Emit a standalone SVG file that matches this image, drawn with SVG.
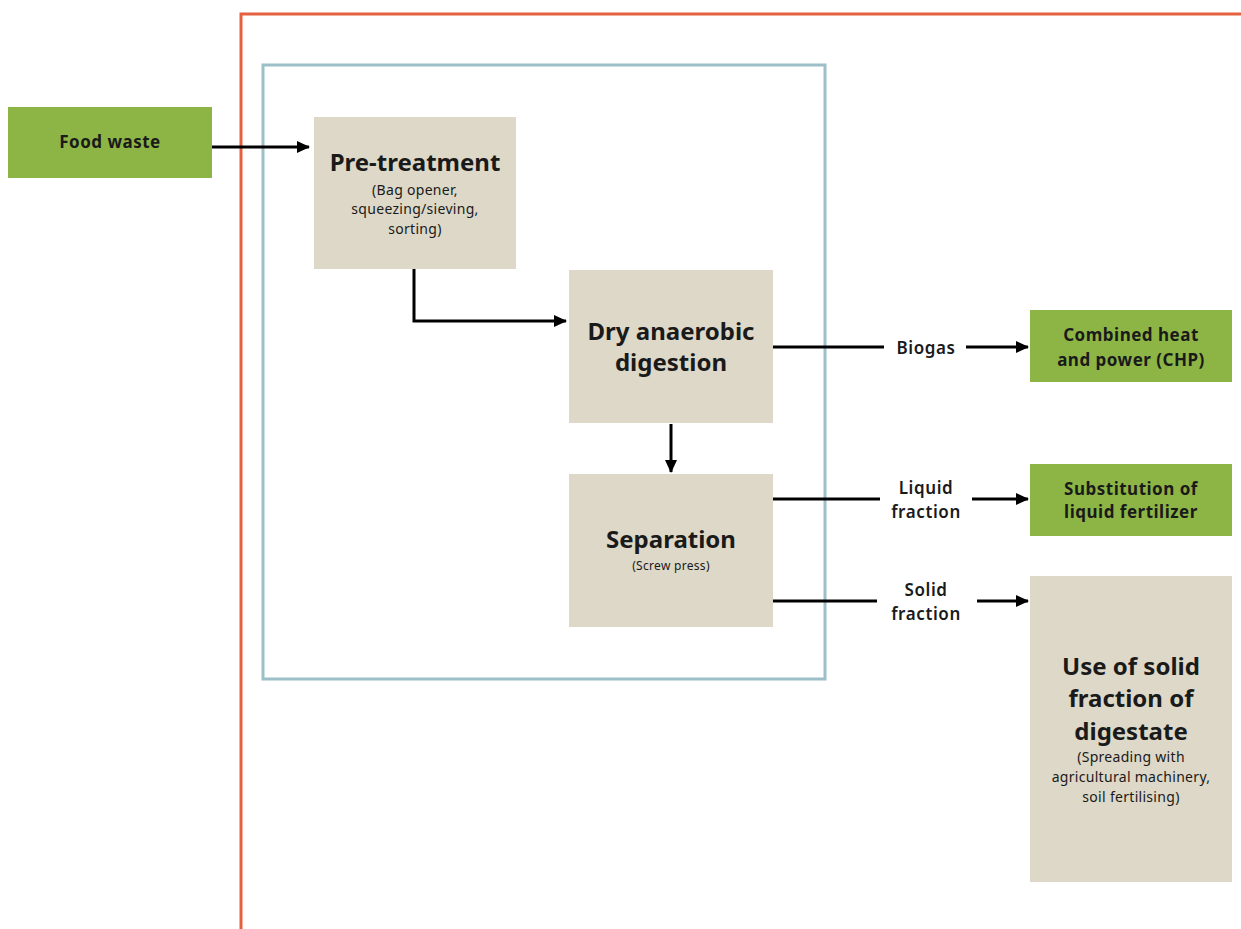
<svg xmlns="http://www.w3.org/2000/svg" width="1241" height="929" viewBox="0 0 1241 929">
<style>
.green{fill:#8db545}
.beige{fill:#ddd8c7}
.t{font-family:"Noto Sans","Liberation Sans",sans-serif;fill:#1a1a1a;text-anchor:middle}
.big{font-size:24px;font-weight:700}
.mid{font-size:17px;font-weight:700;letter-spacing:0.5px}
.lab{font-size:17px;font-weight:600;letter-spacing:0.6px}
.sub{font-size:14px;font-weight:400;letter-spacing:0.3px}
.con{stroke:#000;stroke-width:3;fill:none}
</style>
<defs>
<marker id="ah" markerUnits="userSpaceOnUse" markerWidth="14" markerHeight="14" refX="12" refY="7" orient="auto">
<path d="M0,1 L13,7 L0,13 Z" fill="#000"/>
</marker>
</defs>
<rect width="1241" height="929" fill="#fff"/>
<g id="frames">
<path d="M1241,14 L241,14 L241,929" fill="none" stroke="#e4603f" stroke-width="3"/>
<rect x="263" y="65" width="562" height="614" fill="none" stroke="#9dbfc8" stroke-width="3"/>
</g>
<g id="connectors">
<path class="con" d="M212,147 L309,147" marker-end="url(#ah)"/>
<path class="con" d="M414,269 L414,321 L566,321" marker-end="url(#ah)"/>
<path class="con" d="M671,424 L671,472" marker-end="url(#ah)"/>
<path class="con" d="M773,347 L884,347"/>
<path class="con" d="M966,347 L1028,347" marker-end="url(#ah)"/>
<path class="con" d="M773,499 L880,499"/>
<path class="con" d="M972,499 L1028,499" marker-end="url(#ah)"/>
<path class="con" d="M773,601 L877,601"/>
<path class="con" d="M977,601 L1028,601" marker-end="url(#ah)"/>
<text class="t lab" x="926" y="354">Biogas</text>
<text class="t lab" x="926" y="494">Liquid</text>
<text class="t lab" x="926" y="518">fraction</text>
<text class="t lab" x="926" y="596">Solid</text>
<text class="t lab" x="926" y="620">fraction</text>
</g>
<g id="food-waste">
<rect class="green" x="8" y="107" width="204" height="71"/>
<text class="t mid" x="110" y="148">Food waste</text>
</g>
<g id="pre-treatment">
<rect class="beige" x="314" y="117" width="202" height="152"/>
<text class="t big" x="415" y="171">Pre-treatment</text>
<text class="t sub" x="415" y="195">(Bag opener,</text>
<text class="t sub" x="415" y="214">squeezing/sieving,</text>
<text class="t sub" x="415" y="234">sorting)</text>
</g>
<g id="dry-anaerobic-digestion">
<rect class="beige" x="569" y="270" width="204" height="153"/>
<text class="t big" x="671" y="340">Dry anaerobic</text>
<text class="t big" x="671" y="371">digestion</text>
</g>
<g id="separation">
<rect class="beige" x="569" y="474" width="204" height="153"/>
<text class="t big" x="671" y="548">Separation</text>
<text class="t sub" x="671" y="570" style="font-size:12px">(Screw press)</text>
</g>
<g id="chp">
<rect class="green" x="1030" y="310" width="202" height="72"/>
<text class="t mid" x="1131" y="341">Combined heat</text>
<text class="t mid" x="1131" y="366">and power (CHP)</text>
</g>
<g id="liquid-fertilizer">
<rect class="green" x="1030" y="464" width="202" height="72"/>
<text class="t mid" x="1131" y="495">Substitution of</text>
<text class="t mid" x="1131" y="518">liquid fertilizer</text>
</g>
<g id="solid-digestate">
<rect class="beige" x="1030" y="576" width="202" height="306"/>
<text class="t big" x="1131" y="675">Use of solid</text>
<text class="t big" x="1131" y="707">fraction of</text>
<text class="t big" x="1131" y="740">digestate</text>
<text class="t sub" x="1131" y="762">(Spreading with</text>
<text class="t sub" x="1131" y="782">agricultural machinery,</text>
<text class="t sub" x="1131" y="802">soil fertilising)</text>
</g>
</svg>
